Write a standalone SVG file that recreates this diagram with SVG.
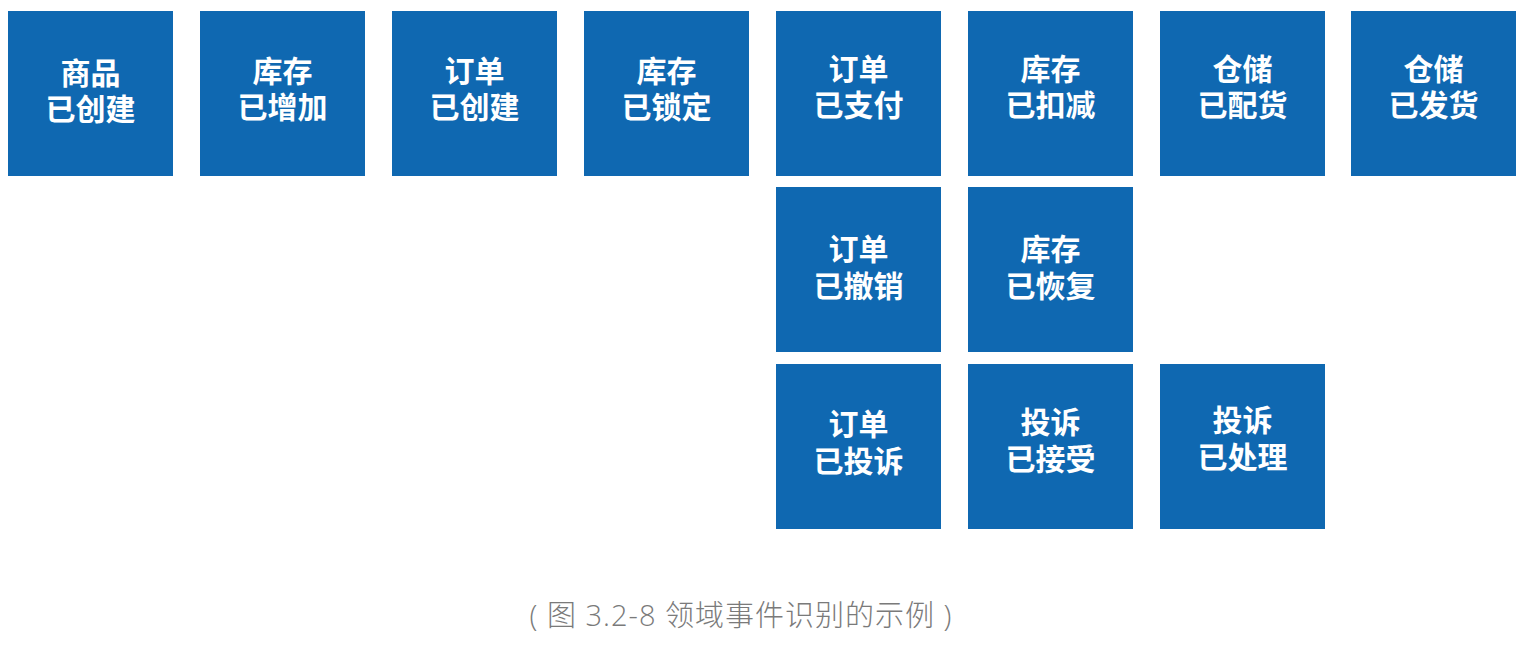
<svg xmlns="http://www.w3.org/2000/svg" width="1526" height="650" viewBox="0 0 1526 650">
<style>
.box{fill:#0f68b1}
.lbl{font-family:"Noto Sans CJK SC","Noto Sans",sans-serif;font-size:30px;font-weight:700;fill:#ffffff;text-anchor:middle}
.cap{font-family:"Open Sans","Noto Sans CJK SC",sans-serif;font-size:29px;font-weight:300;fill:#7a7a7a;text-anchor:middle;letter-spacing:1px}
</style>
<rect width="1526" height="650" fill="#ffffff"/>
<g id="n1"><rect class="box" x="8" y="11" width="165" height="165"/><text class="lbl"><tspan x="90.5" y="84">商品</tspan><tspan x="90.5" y="120">已创建</tspan></text></g>
<g id="n2"><rect class="box" x="200" y="11" width="165" height="165"/><text class="lbl"><tspan x="282.5" y="82">库存</tspan><tspan x="282.5" y="118">已增加</tspan></text></g>
<g id="n3"><rect class="box" x="392" y="11" width="165" height="165"/><text class="lbl"><tspan x="474.5" y="82">订单</tspan><tspan x="474.5" y="118">已创建</tspan></text></g>
<g id="n4"><rect class="box" x="584" y="11" width="165" height="165"/><text class="lbl"><tspan x="666.5" y="82">库存</tspan><tspan x="666.5" y="118">已锁定</tspan></text></g>
<g id="n5"><rect class="box" x="776" y="11" width="165" height="165"/><text class="lbl"><tspan x="858.5" y="80">订单</tspan><tspan x="858.5" y="116">已支付</tspan></text></g>
<g id="n6"><rect class="box" x="968" y="11" width="165" height="165"/><text class="lbl"><tspan x="1050.5" y="80">库存</tspan><tspan x="1050.5" y="116">已扣减</tspan></text></g>
<g id="n7"><rect class="box" x="1160" y="11" width="165" height="165"/><text class="lbl"><tspan x="1242.5" y="80">仓储</tspan><tspan x="1242.5" y="116">已配货</tspan></text></g>
<g id="n8"><rect class="box" x="1351" y="11" width="165" height="165"/><text class="lbl"><tspan x="1433.5" y="80">仓储</tspan><tspan x="1433.5" y="116">已发货</tspan></text></g>
<g id="n9"><rect class="box" x="776" y="187" width="165" height="165"/><text class="lbl"><tspan x="858.5" y="260">订单</tspan><tspan x="858.5" y="297">已撤销</tspan></text></g>
<g id="n10"><rect class="box" x="968" y="187" width="165" height="165"/><text class="lbl"><tspan x="1050.5" y="260">库存</tspan><tspan x="1050.5" y="297">已恢复</tspan></text></g>
<g id="n11"><rect class="box" x="776" y="364" width="165" height="165"/><text class="lbl"><tspan x="858.5" y="435">订单</tspan><tspan x="858.5" y="472">已投诉</tspan></text></g>
<g id="n12"><rect class="box" x="968" y="364" width="165" height="165"/><text class="lbl"><tspan x="1050.5" y="433">投诉</tspan><tspan x="1050.5" y="470">已接受</tspan></text></g>
<g id="n13"><rect class="box" x="1160" y="364" width="165" height="165"/><text class="lbl"><tspan x="1242.5" y="431">投诉</tspan><tspan x="1242.5" y="468">已处理</tspan></text></g>
<g id="connectors"></g>
<text class="cap" x="741" y="626">( 图 3.2-8 领域事件识别的示例 )</text>
</svg>
